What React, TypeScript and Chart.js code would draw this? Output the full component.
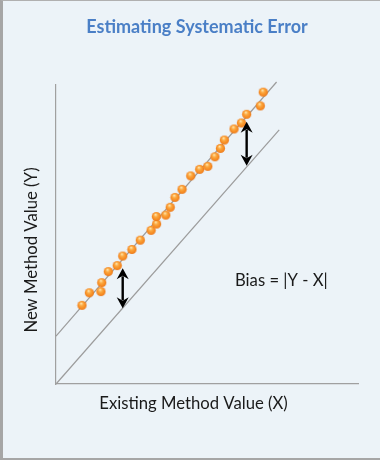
import React, { useEffect, useRef } from "react";
import { Chart, registerables } from "chart.js";

Chart.register(...registerables);

// ---- Text ----
const TITLE = "Estimating Systematic Error";
const X_TITLE = "Existing Method Value (X)";
const Y_TITLE = "New Method Value (Y)";
const BIAS_LABEL = "Bias = |Y - X|";

// ---- Data (arbitrary units, no ticks shown) ----
const methodX = [9.9, 12.7, 17.1, 17.4, 19.9, 23.3, 25.4, 28.9, 32.1, 36.2, 38.3, 38.2, 41.8, 43.5, 45.3, 48.0, 51.3, 54.7, 57.8, 60.5, 62.6, 64.1, 67.8, 70.6, 72.6, 77.8, 78.9];
const methodY = [26.3, 30.5, 30.9, 33.9, 37.6, 39.6, 42.8, 45.0, 48.1, 51.4, 53.5, 56.0, 56.5, 59.1, 62.4, 65.1, 69.6, 71.8, 72.8, 76.0, 78.8, 81.6, 85.3, 87.3, 90.2, 93.0, 97.6];

// Line of identity (Y = X)
const identityX = [0, 85];
const identityY = [0, 85];
// Line through the new-method data (Y = X + bias)
const biasLineX = [0, 84];
const biasLineY = [16, 101];

// Bias arrows: x position, lower end (identity), upper end (data line)
const arrowX = [25.4, 72.6];
const arrowLow = [25.3, 73.0];
const arrowHigh = [38.7, 87.7];

const X_MIN = 0;
const X_MAX = 115;
const Y_MIN = 0;
const Y_MAX = 100;

const FONT = "Lato, 'Open Sans', sans-serif";

function makeSphere(): HTMLCanvasElement {
  const c = document.createElement("canvas");
  c.width = 11;
  c.height = 11;
  const g = c.getContext("2d")!;
  const grad = g.createRadialGradient(4.6, 3.4, 0.3, 5.5, 5.5, 4.9);
  grad.addColorStop(0, "#FFE6B0");
  grad.addColorStop(0.35, "#FCA940");
  grad.addColorStop(0.8, "#F5861E");
  grad.addColorStop(1, "#E26C12");
  g.fillStyle = grad;
  g.beginPath();
  g.arc(5.5, 5.5, 4.6, 0, Math.PI * 2);
  g.fill();
  return c;
}

const annotationsPlugin = {
  id: "annotations",
  afterDatasetsDraw(chart: any) {
    const { ctx, chartArea, scales } = chart;
    const xs = scales.x;
    const ys = scales.y;

    // arrows
    ctx.save();
    ctx.strokeStyle = "#000";
    ctx.fillStyle = "#000";
    ctx.lineWidth = 2.4;
    for (let i = 0; i < arrowX.length; i++) {
      const px = xs.getPixelForValue(arrowX[i]);
      const yLow = ys.getPixelForValue(arrowLow[i]);
      const yHigh = ys.getPixelForValue(arrowHigh[i]);
      const head = 10;
      const half = 6;
      ctx.beginPath();
      ctx.moveTo(px, yHigh + head - 2);
      ctx.lineTo(px, yLow - head + 2);
      ctx.stroke();
      // top head
      ctx.beginPath();
      ctx.moveTo(px, yHigh);
      ctx.lineTo(px - half, yHigh + head + 1);
      ctx.lineTo(px, yHigh + head - 2.5);
      ctx.lineTo(px + half, yHigh + head + 1);
      ctx.closePath();
      ctx.fill();
      // bottom head
      ctx.beginPath();
      ctx.moveTo(px, yLow);
      ctx.lineTo(px - half, yLow - head - 1);
      ctx.lineTo(px, yLow - head + 2.5);
      ctx.lineTo(px + half, yLow - head - 1);
      ctx.closePath();
      ctx.fill();
    }
    ctx.restore();

    // texts
    ctx.save();
    ctx.textBaseline = "middle";
    ctx.textAlign = "center";
    ctx.fillStyle = "#4A7FC6";
    ctx.font = `bold 18px ${FONT}`;
    ctx.fillText(TITLE, 197, chartArea.top - 58);

    ctx.fillStyle = "#1a1a1a";
    ctx.font = `16.7px ${FONT}`;
    ctx.fillText(X_TITLE, chartArea.left + 137.5, chartArea.bottom + 20);

    ctx.save();
    ctx.translate(chartArea.left - 24.5, chartArea.top + 165);
    ctx.rotate(-Math.PI / 2);
    ctx.fillText(Y_TITLE, 0, 0);
    ctx.restore();

    ctx.textAlign = "left";
    ctx.font = `16.7px ${FONT}`;
    ctx.fillText(BIAS_LABEL, chartArea.left + 179, chartArea.top + 196);
    ctx.restore();
  },
};

export default function App() {
  const ref = useRef<HTMLCanvasElement>(null);

  useEffect(() => {
    if (!ref.current) return;
    const sphere = makeSphere();
    const lineStyle = {
      showLine: true,
      borderColor: "#9C9C9C",
      borderWidth: 1.2,
      pointRadius: 0,
      pointHoverRadius: 0,
      clip: false as any,
      order: 2,
    };
    const chart = new Chart(ref.current, {
      type: "scatter",
      data: {
        datasets: [
          {
            label: "Y = X",
            data: identityX.map((x, i) => ({ x, y: identityY[i] })),
            ...lineStyle,
          },
          {
            label: "Y = X + bias",
            data: biasLineX.map((x, i) => ({ x, y: biasLineY[i] })),
            ...lineStyle,
          },
          {
            label: "Samples",
            data: methodX.map((x, i) => ({ x, y: methodY[i] })),
            pointStyle: sphere as any,
            pointRadius: 4.6,
            clip: false as any,
            order: 1,
          },
        ],
      },
      options: {
        animation: false,
        responsive: false,
        events: [],
        layout: {
          autoPadding: false,
          padding: { left: 56, right: 22, top: 85, bottom: 76 },
        },
        plugins: {
          legend: { display: false },
          tooltip: { enabled: false },
          title: { display: false },
        },
        scales: {
          x: {
            type: "linear",
            min: X_MIN,
            max: X_MAX,
            grid: { display: false, drawTicks: false },
            ticks: { display: false },
            border: { display: true, color: "#A0A0A0", width: 1.2 },
          },
          y: {
            type: "linear",
            min: Y_MIN,
            max: Y_MAX,
            grid: { display: false, drawTicks: false },
            ticks: { display: false },
            border: { display: true, color: "#A0A0A0", width: 1.2 },
          },
        },
      },
      plugins: [annotationsPlugin],
    });
    return () => chart.destroy();
  }, []);

  return (
    <div style={{ position: "fixed", left: 0, top: 0, width: 380, height: 460, background: "#ECF3F8" }}>
      <canvas ref={ref} width={380} height={460} style={{ display: "block", width: 380, height: 460 }} />
      <div
        style={{
          position: "absolute",
          left: 0,
          top: 0,
          width: 380,
          height: 460,
          boxSizing: "border-box",
          borderLeft: "3px solid #A6A6A6",
          borderTop: "1px solid #B0B0B0",
          borderBottom: "2px solid #A6A6A6",
          pointerEvents: "none",
        }}
      />
    </div>
  );
}
